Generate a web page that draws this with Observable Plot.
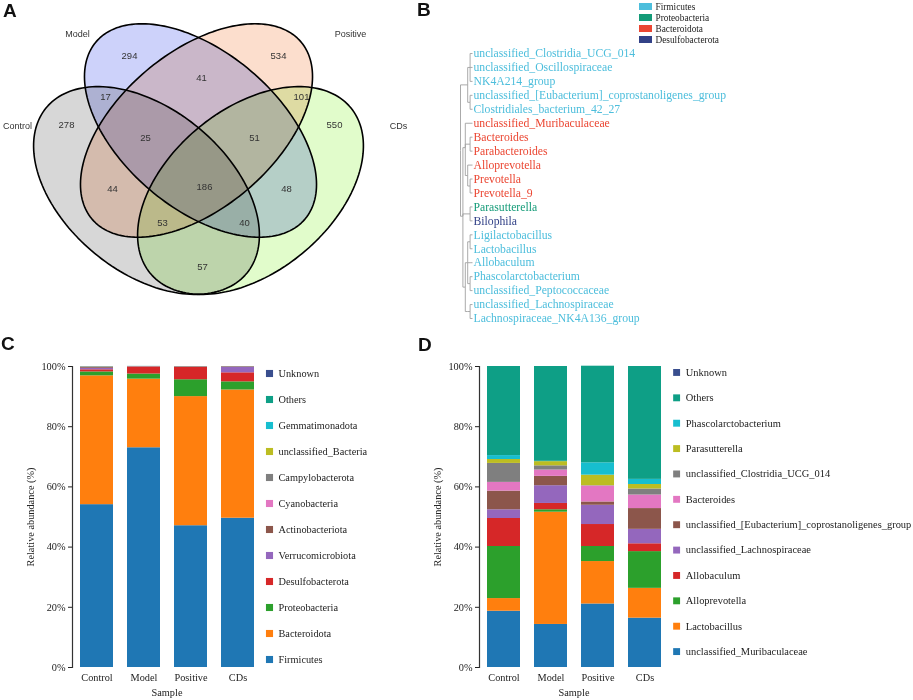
<!DOCTYPE html>
<html><head><meta charset="utf-8">
<script src="https://cdn.jsdelivr.net/npm/d3@7"></script>
<script src="https://cdn.jsdelivr.net/npm/@observablehq/plot@0.6"></script>
<style>
html,body{margin:0;padding:0;background:#fff;}
#fig{position:relative;width:913px;height:700px;overflow:hidden;background:#fff;}
.panel{position:absolute;}
.panel svg{overflow:visible;background:transparent;}
.tag{position:absolute;font-family:"Liberation Sans",Arial,sans-serif;font-weight:bold;font-size:19px;line-height:1;color:#111;}
</style></head><body><div id="fig"></div>
<script>
// ================= DATA =================
// Panel A - Venn
const vennSets = ["Control", "Model", "Positive", "CDs"];
const vennRegions = ["C", "M", "P", "D", "CM", "CP", "CD", "MP", "MD", "PD", "CMP", "CPD", "MPD", "CMD", "CMPD"];
const vennCounts = [278, 294, 534, 550, 17, 44, 57, 41, 48, 101, 25, 53, 51, 40, 186];

// Panel B - tree (genus paths) and phylum of each leaf
const treePaths = [
  "root/A/A1/unclassified_Clostridia_UCG_014",
  "root/A/A1/unclassified_Oscillospiraceae",
  "root/A/A1/NK4A214_group",
  "root/A/A2/unclassified_[Eubacterium]_coprostanoligenes_group",
  "root/A/A2/Clostridiales_bacterium_42_27",
  "root/B/Bac/unclassified_Muribaculaceae",
  "root/B/Bac/Bac1/Bacteroides",
  "root/B/Bac/Bac1/Parabacteroides",
  "root/B/Bac/Bac2/Alloprevotella",
  "root/B/Bac/Bac2/Bac3/Prevotella",
  "root/B/Bac/Bac2/Bac3/Prevotella_9",
  "root/B/PD/Parasutterella",
  "root/B/PD/Bilophila",
  "root/B/C/C1/C1a/Ligilactobacillus",
  "root/B/C/C1/C1a/Lactobacillus",
  "root/B/C/C1/C1m/Allobaculum",
  "root/B/C/C1/C1b/Phascolarctobacterium",
  "root/B/C/C1/C1b/unclassified_Peptococcaceae",
  "root/B/C/C2/C2a/unclassified_Lachnospiraceae",
  "root/B/C/C2/C2a/Lachnospiraceae_NK4A136_group"
];
const treePhyla = [
  "Firmicutes", "Firmicutes", "Firmicutes", "Firmicutes", "Firmicutes",
  "Bacteroidota", "Bacteroidota", "Bacteroidota", "Bacteroidota", "Bacteroidota", "Bacteroidota",
  "Proteobacteria", "Desulfobacterota",
  "Firmicutes", "Firmicutes", "Firmicutes", "Firmicutes", "Firmicutes", "Firmicutes", "Firmicutes"
];
const phylaLegend = ["Firmicutes", "Proteobacteria", "Bacteroidota", "Desulfobacterota"];

// Panels C & D - samples
const samples = ["Control", "Model", "Positive", "CDs"];

// Panel C - phylum relative abundance (%), bottom -> top
const phylumNames = ["Firmicutes", "Bacteroidota", "Proteobacteria", "Desulfobacterota", "Verrucomicrobiota",
  "Actinobacteriota", "Cyanobacteria", "Campylobacterota", "unclassified_Bacteria", "Gemmatimonadota", "Others", "Unknown"];
const phylumValues = [
  [54.1, 73.0, 47.1, 49.6],
  [42.8, 22.8, 42.9, 42.6],
  [1.3, 1.7, 5.6, 2.7],
  [0.7, 2.3, 4.1, 3.0],
  [0.5, 0.05, 0.05, 1.8],
  [0.35, 0.1, 0.15, 0.2],
  [0.05, 0.02, 0.02, 0.03],
  [0.1, 0.02, 0.03, 0.02],
  [0.03, 0.01, 0.02, 0.01],
  [0.02, 0.01, 0.01, 0.01],
  [0.05, 0.03, 0.02, 0.03],
  [0, 0, 0, 0]
];

// Panel D - genus relative abundance (%), bottom -> top
const genusNames = ["unclassified_Muribaculaceae", "Lactobacillus", "Alloprevotella", "Allobaculum",
  "unclassified_Lachnospiraceae", "unclassified_[Eubacterium]_coprostanoligenes_group", "Bacteroides",
  "unclassified_Clostridia_UCG_014", "Parasutterella", "Phascolarctobacterium", "Others", "Unknown"];
const genusValues = [
  [18.7, 14.3, 21.1, 16.4],
  [4.2, 37.3, 14.1, 9.9],
  [17.3, 0.8, 5.0, 12.2],
  [9.3, 2.1, 7.3, 2.6],
  [2.9, 5.9, 6.4, 4.8],
  [6.2, 3.1, 1.1, 6.9],
  [2.9, 2.1, 5.3, 4.5],
  [6.3, 1.4, 0.1, 2.0],
  [1.3, 1.4, 3.5, 1.5],
  [1.3, 0.1, 4.1, 1.7],
  [29.6, 31.5, 32.1, 37.5],
  [0, 0, 0, 0]
];
const yTicks = [0, 20, 40, 60, 80, 100];

// ================= STYLES / LAYOUT =================
const stackColors = ["#1f77b4", "#ff7f0e", "#2ca02c", "#d62728", "#9467bd", "#8c564b",
  "#e377c2", "#7f7f7f", "#bcbd22", "#17becf", "#0e9f86", "#394e8e"];
const phylaColors = ["#4dbedc", "#149b78", "#eb4632", "#324187"];
const vennFills = ["#d7d7d7", "#cdd2fa", "#fcdecd", "#e1fccb"];
const vennShapes = [
  {cx: 146, cy: 190, a: 130, b: 81.5, angle: 39.5},
  {cx: 200, cy: 130, a: 137, b: 78, angle: 40.3},
  {cx: 196, cy: 130, a: 137, b: 78, angle: 139.7},
  {cx: 250, cy: 190, a: 130, b: 81.5, angle: 140.5}
];
const vennCountPos = [[66,124],[129,55],[278,55],[334,124],[105,96],[112,188],[202,266],[201,77],[286,188],[301,96],[145,137],[162,222],[254,137],[244,222],[204,186]];
const vennSetPos = [[17,126],[77,34],[350,34],[398,126]];

const fig = document.getElementById("fig");
function place(node, left, top) {
  const d = document.createElement("div");
  d.className = "panel";
  d.style.left = left + "px";
  d.style.top = top + "px";
  d.appendChild(node);
  fig.appendChild(d);
}
function tag(t, left, top) {
  const d = document.createElement("div");
  d.className = "tag";
  d.textContent = t;
  d.style.left = left + "px";
  d.style.top = top + "px";
  fig.appendChild(d);
}

// ================= PANEL A =================
function ellipse({cx, cy, a, b, angle}) {
  const t = angle * Math.PI / 180;
  return d3.range(0, 360, 2).map(k => {
    const u = k * Math.PI / 180;
    return {
      x: cx + a * Math.cos(u) * Math.cos(t) - b * Math.sin(u) * Math.sin(t),
      y: cy + a * Math.cos(u) * Math.sin(t) + b * Math.sin(u) * Math.cos(t)
    };
  });
}
const countLabels = vennRegions.map((r, i) => ({region: r, n: vennCounts[i], x: vennCountPos[i][0], y: vennCountPos[i][1]}));
const setLabels = vennSets.map((s, i) => ({name: s, x: vennSetPos[i][0], y: vennSetPos[i][1]}));

const venn = Plot.plot({
  width: 420, height: 320, margin: 0,
  x: {domain: [0, 420], range: [0, 420], axis: null},
  y: {domain: [0, 320], range: [0, 320], axis: null},
  style: {fontFamily: "Liberation Sans, Arial, sans-serif", fontSize: "9.5px", color: "#333", background: "transparent", overflow: "visible"},
  marks: [
    ...vennShapes.map((s, i) => Plot.line(ellipse(s), {x: "x", y: "y", fill: vennFills[i], mixBlendMode: "multiply", stroke: "none", curve: "linear-closed"})),
    Plot.text(countLabels, {x: "x", y: "y", text: d => String(d.n), fill: "#333"}),
    ...vennShapes.map(s => Plot.line(ellipse(s), {x: "x", y: "y", fill: "none", stroke: "#000", strokeWidth: 1.6, curve: "linear-closed"})),
    Plot.text(setLabels, {x: "x", y: "y", text: "name", fill: "#333", fontSize: 9})
  ]
});
place(venn, 0, 0);
tag("A", 3, 1);

// ================= PANEL B =================
const treeData = treePaths.map((p, i) => ({path: p, phylum: treePhyla[i]}));
const treeOpts = {path: "path", treeLayout: d3.cluster, treeSort: null, treeSeparation: () => 1};
const tree = Plot.plot({
  width: 473, height: 330, marginLeft: 20, marginRight: 441, marginTop: 53, marginBottom: 12,
  axis: null,
  color: {domain: phylaLegend, range: phylaColors},
  style: {fontFamily: "Liberation Serif, Times New Roman, serif", fontSize: "11.7px", background: "transparent", overflow: "visible"},
  marks: [
    Plot.link(treeData, Plot.treeLink({...treeOpts, curve: "step-before", stroke: "#a0a0a0", strokeWidth: 0.9, strokeOpacity: 1})),
    Plot.text(treeData, Plot.treeNode({...treeOpts, treeFilter: "node:external", text: "node:name", fill: "phylum", dx: 1, textAnchor: "start"}))
  ]
});
place(tree, 440, 0);

const treeLegend = Plot.plot({
  width: 200, height: 50, marginLeft: 3, marginRight: 184, marginTop: 0, marginBottom: 0,
  axis: null,
  y: {domain: phylaLegend, range: [-2.9, 48.4], padding: 0.4},
  color: {domain: phylaLegend, range: phylaColors},
  style: {fontFamily: "Liberation Serif, Times New Roman, serif", fontSize: "9.3px", color: "#222", background: "transparent", overflow: "visible"},
  marks: [
    Plot.cell(phylaLegend, {y: d => d, fill: d => d}),
    Plot.text(phylaLegend, {y: d => d, text: d => d, frameAnchor: "right", textAnchor: "start", dx: 3, fill: "#222"})
  ]
});
place(treeLegend, 636, 0);
tag("B", 417, 0);

// ================= PANELS C & D =================
function barPanel(names, values, ml) {
  const table = names.flatMap((s, i) => samples.map((x, j) => ({sample: x, taxon: s, value: values[i][j]})));
  return Plot.plot({
    width: 265, height: 370, marginLeft: ml, marginRight: 265 - ml - 189, marginTop: 36, marginBottom: 33,
    style: {fontFamily: "Liberation Serif, Times New Roman, serif", fontSize: "10.3px", color: "#222", background: "transparent", overflow: "visible"},
    x: {domain: samples, paddingInner: 0.3, paddingOuter: 0.15},
    y: {domain: [0, 100]},
    color: {domain: names, range: stackColors},
    marks: [
      Plot.barY(table, {x: "sample", y: "value", fill: "taxon", order: names}),
      Plot.frame({anchor: "left", stroke: "#333", strokeWidth: 1.2}),
      Plot.axisY({ticks: yTicks, tickFormat: d => d + "%", tickSize: 4, tickPadding: 3, label: "Relative abundance (%)", labelAnchor: "center", labelOffset: 46, labelArrow: "none"}),
      Plot.axisX({tickSize: 0, tickPadding: 6, label: "Sample", labelAnchor: "center", labelOffset: 28})
    ]
  });
}
function legendPanel(names, ml, dx, fs) {
  const rev = names.slice().reverse();
  return Plot.plot({
    width: 250, height: 370, marginLeft: ml, marginRight: 250 - ml - 1, marginTop: 0, marginBottom: 0,
    axis: null,
    y: {type: "point", domain: rev, range: [41, 331], padding: 0},
    color: {domain: names, range: stackColors},
    style: {fontFamily: "Liberation Serif, Times New Roman, serif", fontSize: fs + "px", color: "#222", background: "transparent", overflow: "visible"},
    marks: [
      Plot.dot(rev, {y: d => d, fill: d => d, symbol: "square", r: 4, frameAnchor: "left", stroke: "none"}),
      Plot.text(rev, {y: d => d, text: d => d, frameAnchor: "left", dx: dx, textAnchor: "start", fill: "#222"})
    ]
  });
}
place(barPanel(phylumNames, phylumValues, 72), 0, 330);
place(legendPanel(phylumNames, 7, 9, 10.3), 262, 330);
tag("C", 1, 334);

place(barPanel(genusNames, genusValues, 69), 410, 330);
place(legendPanel(genusNames, 7.3, 9.4, 10.7), 669, 330);
tag("D", 418, 335);
</script></body></html>
